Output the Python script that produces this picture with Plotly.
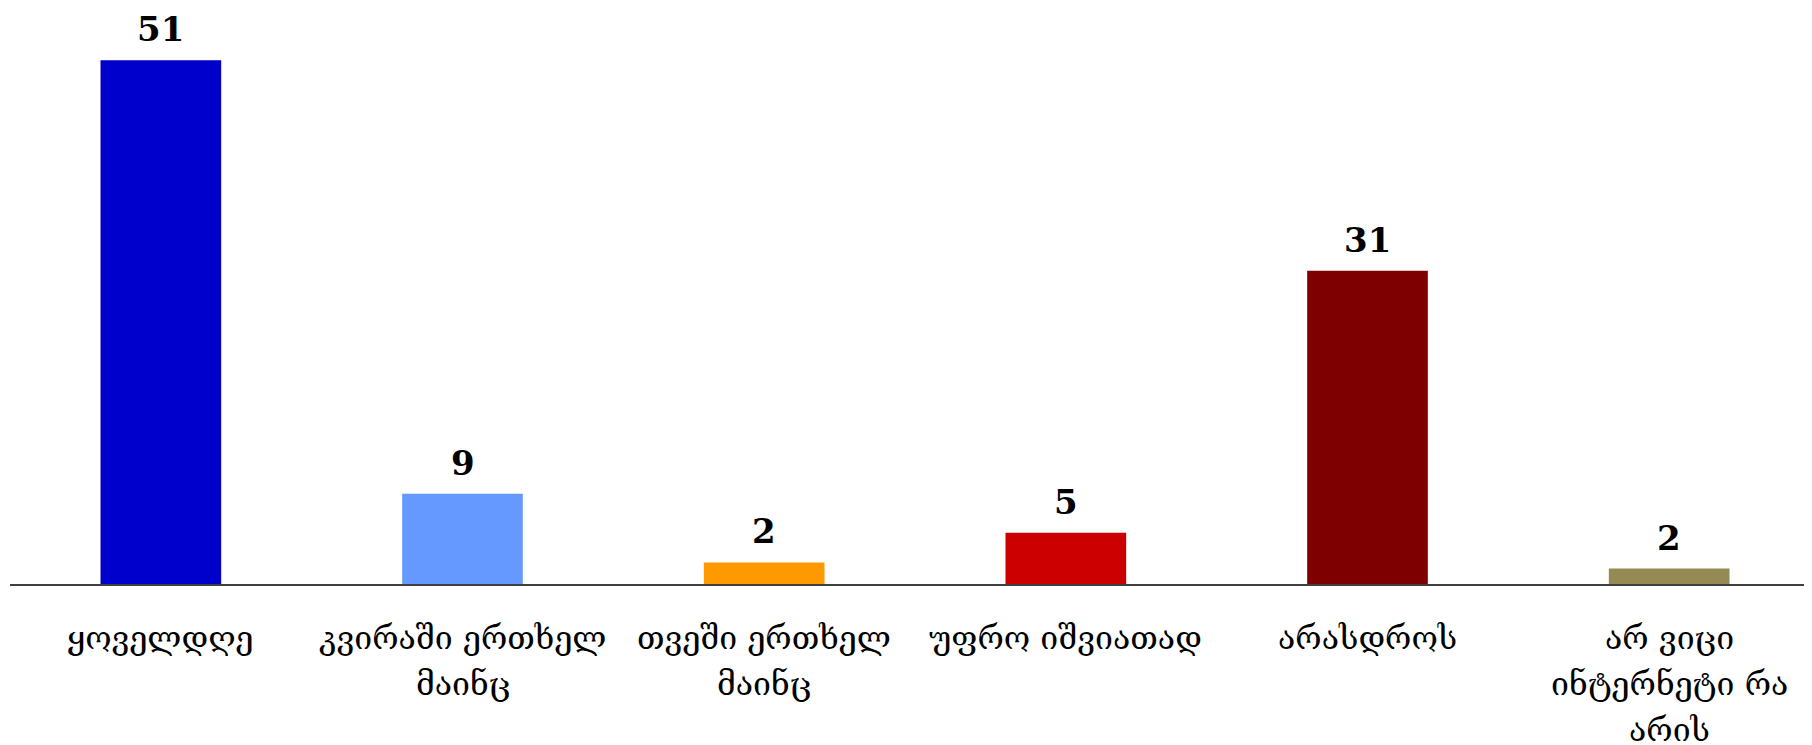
import plotly.graph_objects as go

categories = [
    "ყოველდღე",
    "კვირაში ერთხელ<br>მაინც",
    "თვეში ერთხელ<br>მაინც",
    "უფრო იშვიათად",
    "არასდროს",
    "არ ვიცი<br>ინტერნეტი რა<br>არის",
]
values = [51.0, 8.8, 2.1, 5.0, 30.5, 1.5]
colors = ["#0000CC", "#6699FF", "#FF9900", "#CC0000", "#7F0000", "#948A54"]

fig = go.Figure()
fig.add_trace(go.Bar(
    x=list(range(len(categories))),
    y=values,
    marker=dict(color=colors, line=dict(width=0)),
    hoverinfo="skip",
))

for i, v in enumerate(values):
    fig.add_annotation(
        x=i, y=v, text=f"<b>{round(v + 1e-9):.0f}</b>", showarrow=False,
        yanchor="bottom", yshift=9,
        font=dict(family="DejaVu Serif", size=34, color="#000000"),
    )

# category labels, one annotation per line for wider line spacing
for i, cat in enumerate(categories):
    for k, line in enumerate(cat.split("<br>")):
        fig.add_annotation(
            x=i, y=0, text=line, showarrow=False,
            yanchor="middle", yshift=-(54 + 46 * k),
            font=dict(family="DejaVu Serif", size=32, color="#000000"),
        )

fig.update_layout(
    width=1812, height=745,
    margin=dict(l=2, r=0, t=12, b=169),
    plot_bgcolor="white", paper_bgcolor="white",
    bargap=0.6,
    showlegend=False,
    xaxis=dict(
        tickmode="array", tickvals=list(range(len(categories))),
        ticktext=[""] * len(categories),
        range=[-0.5, 5.5],
        showline=True, linecolor="#404040", linewidth=2,
        showgrid=False, zeroline=False, ticks="",
    ),
    yaxis=dict(range=[0, 54.93], visible=False, showgrid=False, zeroline=False),
)

fig.write_html("out.html")
